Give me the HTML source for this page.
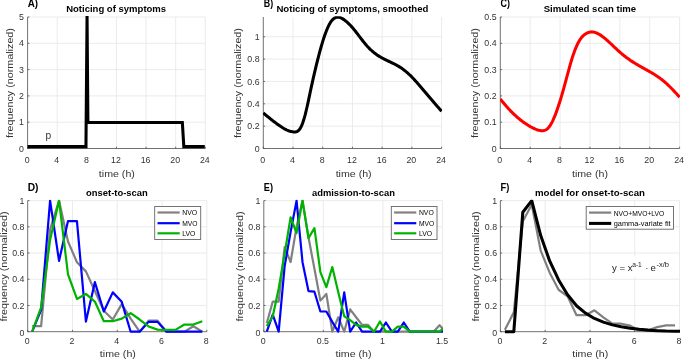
<!DOCTYPE html>
<html><head><meta charset="utf-8"><title>Figure</title><style>html,body{margin:0;padding:0;background:#fff;overflow:hidden}svg{display:block}</style></head><body>
<svg width="685" height="359" viewBox="0 0 685 359" font-family="'Liberation Sans', sans-serif">
<rect width="100%" height="100%" fill="#fff"/>
<defs>
<clipPath id="c00"><rect x="27.3" y="16.2" width="178.5" height="134.5"/></clipPath>
<clipPath id="c10"><rect x="263" y="16.2" width="179.1" height="134.5"/></clipPath>
<clipPath id="c20"><rect x="500" y="16.2" width="180.1" height="134.5"/></clipPath>
<clipPath id="c01"><rect x="27.4" y="199.8" width="179.9" height="134.1"/></clipPath>
<clipPath id="c11"><rect x="263.5" y="199.8" width="179.5" height="134.1"/></clipPath>
<clipPath id="c21"><rect x="500.1" y="199.8" width="179.9" height="134.1"/></clipPath>
</defs>
<path d="M57.22 17V148.5M86.83 17V148.5M116.45 17V148.5M146.07 17V148.5M175.68 17V148.5M205.3 17V148.5M27.6 122.2H205.3M27.6 95.9H205.3M27.6 69.6H205.3M27.6 43.3H205.3M27.6 17H205.3" stroke="#e9e9e9" stroke-width="0.9" fill="none"/>
<path d="M27.6 17V148.5H205.3M27.6 148.5v-1.8M57.22 148.5v-1.8M86.83 148.5v-1.8M116.45 148.5v-1.8M146.07 148.5v-1.8M175.68 148.5v-1.8M205.3 148.5v-1.8M27.6 148.5h1.8M27.6 122.2h1.8M27.6 95.9h1.8M27.6 69.6h1.8M27.6 43.3h1.8M27.6 17h1.8" stroke="#4d4d4d" stroke-width="0.8" fill="none"/>
<path d="M293.02 17V148.5M322.73 17V148.5M352.45 17V148.5M382.17 17V148.5M411.88 17V148.5M441.6 17V148.5M263.3 126.15H441.6M263.3 103.8H441.6M263.3 81.45H441.6M263.3 59.1H441.6M263.3 36.75H441.6" stroke="#e9e9e9" stroke-width="0.9" fill="none"/>
<path d="M263.3 17V148.5H441.6M263.3 148.5v-1.8M293.02 148.5v-1.8M322.73 148.5v-1.8M352.45 148.5v-1.8M382.17 148.5v-1.8M411.88 148.5v-1.8M441.6 148.5v-1.8M263.3 148.5h1.8M263.3 126.15h1.8M263.3 103.8h1.8M263.3 81.45h1.8M263.3 59.1h1.8M263.3 36.75h1.8" stroke="#4d4d4d" stroke-width="0.8" fill="none"/>
<path d="M530.18 17V148.5M560.07 17V148.5M589.95 17V148.5M619.83 17V148.5M649.72 17V148.5M679.6 17V148.5M500.3 122.2H679.6M500.3 95.9H679.6M500.3 69.6H679.6M500.3 43.3H679.6M500.3 17H679.6" stroke="#e9e9e9" stroke-width="0.9" fill="none"/>
<path d="M500.3 17V148.5H679.6M500.3 148.5v-1.8M530.18 148.5v-1.8M560.07 148.5v-1.8M589.95 148.5v-1.8M619.83 148.5v-1.8M649.72 148.5v-1.8M679.6 148.5v-1.8M500.3 148.5h1.8M500.3 122.2h1.8M500.3 95.9h1.8M500.3 69.6h1.8M500.3 43.3h1.8M500.3 17h1.8" stroke="#4d4d4d" stroke-width="0.8" fill="none"/>
<path d="M72.48 200.6V331.7M117.25 200.6V331.7M162.03 200.6V331.7M206.8 200.6V331.7M27.7 305.48H206.8M27.7 279.26H206.8M27.7 253.04H206.8M27.7 226.82H206.8M27.7 200.6H206.8" stroke="#e9e9e9" stroke-width="0.9" fill="none"/>
<path d="M27.7 200.6V331.7H206.8M27.7 331.7v-1.8M72.48 331.7v-1.8M117.25 331.7v-1.8M162.03 331.7v-1.8M206.8 331.7v-1.8M27.7 331.7h1.8M27.7 305.48h1.8M27.7 279.26h1.8M27.7 253.04h1.8M27.7 226.82h1.8M27.7 200.6h1.8" stroke="#4d4d4d" stroke-width="0.8" fill="none"/>
<path d="M323.37 200.6V331.7M382.93 200.6V331.7M442.5 200.6V331.7M263.8 305.48H442.5M263.8 279.26H442.5M263.8 253.04H442.5M263.8 226.82H442.5M263.8 200.6H442.5" stroke="#e9e9e9" stroke-width="0.9" fill="none"/>
<path d="M263.8 200.6V331.7H442.5M263.8 331.7v-1.8M323.37 331.7v-1.8M382.93 331.7v-1.8M442.5 331.7v-1.8M263.8 331.7h1.8M263.8 305.48h1.8M263.8 279.26h1.8M263.8 253.04h1.8M263.8 226.82h1.8M263.8 200.6h1.8" stroke="#4d4d4d" stroke-width="0.8" fill="none"/>
<path d="M545.17 200.6V331.7M589.95 200.6V331.7M634.73 200.6V331.7M679.5 200.6V331.7M500.4 305.48H679.5M500.4 279.26H679.5M500.4 253.04H679.5M500.4 226.82H679.5M500.4 200.6H679.5" stroke="#e9e9e9" stroke-width="0.9" fill="none"/>
<path d="M500.4 200.6V331.7H679.5M500.4 331.7v-1.8M545.17 331.7v-1.8M589.95 331.7v-1.8M634.73 331.7v-1.8M679.5 331.7v-1.8M500.4 331.7h1.8M500.4 305.48h1.8M500.4 279.26h1.8M500.4 253.04h1.8M500.4 226.82h1.8M500.4 200.6h1.8" stroke="#4d4d4d" stroke-width="0.8" fill="none"/>
<path d="M27.6 146.6 L85.95 146.6 L87.05 16.1 L87.9 122.55 L182.35 122.55 L183.83 146.6 L204.8 146.6" stroke="#000" stroke-width="3.05" fill="none" stroke-linejoin="miter"/>
<path d="M263.3 113 L264.05 113.62 L264.79 114.24 L265.54 114.86 L266.28 115.47 L267.03 116.09 L267.78 116.7 L268.52 117.3 L269.27 117.91 L270.01 118.51 L270.76 119.11 L271.51 119.7 L272.25 120.29 L273 120.87 L273.74 121.45 L274.49 122.02 L275.24 122.58 L275.98 123.14 L276.73 123.69 L277.47 124.23 L278.22 124.76 L278.97 125.29 L279.71 125.8 L280.46 126.31 L281.2 126.8 L281.95 127.29 L282.7 127.75 L283.44 128.21 L284.19 128.64 L284.93 129.05 L285.68 129.44 L286.43 129.81 L287.17 130.15 L287.92 130.47 L288.66 130.75 L289.41 131.01 L290.16 131.24 L290.9 131.43 L291.65 131.6 L292.39 131.74 L293.14 131.86 L293.89 131.94 L294.63 131.98 L295.38 131.95 L296.13 131.83 L296.87 131.59 L297.62 131.2 L298.36 130.64 L299.11 129.87 L299.86 128.89 L300.6 127.67 L301.35 126.22 L302.09 124.52 L302.84 122.56 L303.59 120.35 L304.33 117.86 L305.08 115.13 L305.82 112.17 L306.57 109.02 L307.32 105.73 L308.06 102.33 L308.81 98.84 L309.55 95.32 L310.3 91.79 L311.05 88.29 L311.79 84.85 L312.54 81.47 L313.28 78.15 L314.03 74.89 L314.78 71.69 L315.52 68.55 L316.27 65.47 L317.01 62.44 L317.76 59.47 L318.51 56.56 L319.25 53.72 L320 50.95 L320.74 48.25 L321.49 45.63 L322.24 43.1 L322.98 40.67 L323.73 38.33 L324.47 36.09 L325.22 33.96 L325.97 31.94 L326.71 30.04 L327.46 28.27 L328.2 26.62 L328.95 25.1 L329.7 23.72 L330.44 22.48 L331.19 21.39 L331.93 20.43 L332.68 19.61 L333.43 18.91 L334.17 18.34 L334.92 17.88 L335.66 17.54 L336.41 17.31 L337.16 17.18 L337.9 17.15 L338.65 17.21 L339.39 17.36 L340.14 17.58 L340.89 17.88 L341.63 18.23 L342.38 18.65 L343.12 19.11 L343.87 19.61 L344.62 20.15 L345.36 20.72 L346.11 21.32 L346.85 21.95 L347.6 22.62 L348.35 23.31 L349.09 24.04 L349.84 24.79 L350.58 25.57 L351.33 26.38 L352.08 27.21 L352.82 28.08 L353.57 28.96 L354.32 29.87 L355.06 30.8 L355.81 31.74 L356.55 32.69 L357.3 33.66 L358.05 34.63 L358.79 35.61 L359.54 36.6 L360.28 37.58 L361.03 38.56 L361.78 39.53 L362.52 40.49 L363.27 41.45 L364.01 42.38 L364.76 43.31 L365.51 44.21 L366.25 45.09 L367 45.94 L367.74 46.77 L368.49 47.56 L369.24 48.33 L369.98 49.07 L370.73 49.78 L371.47 50.47 L372.22 51.13 L372.97 51.77 L373.71 52.39 L374.46 52.98 L375.2 53.55 L375.95 54.1 L376.7 54.63 L377.44 55.14 L378.19 55.64 L378.93 56.12 L379.68 56.58 L380.43 57.03 L381.17 57.46 L381.92 57.88 L382.66 58.29 L383.41 58.69 L384.16 59.07 L384.9 59.45 L385.65 59.82 L386.39 60.18 L387.14 60.54 L387.89 60.9 L388.63 61.25 L389.38 61.6 L390.12 61.96 L390.87 62.31 L391.62 62.66 L392.36 63.02 L393.11 63.39 L393.85 63.76 L394.6 64.13 L395.35 64.52 L396.09 64.92 L396.84 65.32 L397.58 65.74 L398.33 66.17 L399.08 66.62 L399.82 67.09 L400.57 67.57 L401.31 68.07 L402.06 68.58 L402.81 69.12 L403.55 69.67 L404.3 70.24 L405.04 70.83 L405.79 71.44 L406.54 72.06 L407.28 72.7 L408.03 73.37 L408.77 74.04 L409.52 74.74 L410.27 75.46 L411.01 76.19 L411.76 76.94 L412.51 77.71 L413.25 78.49 L414 79.29 L414.74 80.09 L415.49 80.91 L416.24 81.75 L416.98 82.59 L417.73 83.43 L418.47 84.29 L419.22 85.15 L419.97 86.02 L420.71 86.9 L421.46 87.77 L422.2 88.65 L422.95 89.53 L423.7 90.41 L424.44 91.29 L425.19 92.17 L425.93 93.06 L426.68 93.94 L427.43 94.82 L428.17 95.7 L428.92 96.58 L429.66 97.46 L430.41 98.33 L431.16 99.21 L431.9 100.08 L432.65 100.96 L433.39 101.83 L434.14 102.7 L434.89 103.56 L435.63 104.42 L436.38 105.28 L437.12 106.14 L437.87 106.99 L438.62 107.84 L439.36 108.69 L440.11 109.53 L440.85 110.37 L441.6 111.2" stroke="#000" stroke-width="3.05" fill="none" stroke-linejoin="round" clip-path="url(#c10)"/>
<path d="M500.3 98.9 L501.05 99.87 L501.8 100.82 L502.55 101.75 L503.3 102.68 L504.05 103.58 L504.8 104.48 L505.55 105.35 L506.3 106.22 L507.05 107.07 L507.8 107.9 L508.55 108.72 L509.3 109.53 L510.05 110.32 L510.8 111.1 L511.55 111.87 L512.3 112.62 L513.05 113.35 L513.8 114.08 L514.55 114.79 L515.3 115.48 L516.05 116.16 L516.8 116.83 L517.55 117.48 L518.31 118.12 L519.06 118.75 L519.81 119.37 L520.56 119.97 L521.31 120.55 L522.06 121.13 L522.81 121.69 L523.56 122.23 L524.31 122.77 L525.06 123.29 L525.81 123.8 L526.56 124.29 L527.31 124.77 L528.06 125.24 L528.81 125.7 L529.56 126.14 L530.31 126.58 L531.06 126.99 L531.81 127.4 L532.56 127.79 L533.31 128.16 L534.06 128.51 L534.81 128.84 L535.56 129.16 L536.31 129.45 L537.06 129.72 L537.81 129.97 L538.56 130.18 L539.31 130.37 L540.06 130.52 L540.81 130.62 L541.56 130.69 L542.31 130.7 L543.06 130.67 L543.81 130.57 L544.56 130.39 L545.31 130.12 L546.06 129.75 L546.81 129.26 L547.56 128.64 L548.31 127.89 L549.06 126.99 L549.81 125.96 L550.56 124.8 L551.31 123.52 L552.06 122.12 L552.81 120.59 L553.56 118.96 L554.32 117.22 L555.07 115.37 L555.82 113.43 L556.57 111.4 L557.32 109.28 L558.07 107.09 L558.82 104.82 L559.57 102.49 L560.32 100.09 L561.07 97.64 L561.82 95.12 L562.57 92.54 L563.32 89.91 L564.07 87.21 L564.82 84.47 L565.57 81.69 L566.32 78.9 L567.07 76.1 L567.82 73.31 L568.57 70.54 L569.32 67.82 L570.07 65.15 L570.82 62.56 L571.57 60.05 L572.32 57.64 L573.07 55.34 L573.82 53.16 L574.57 51.1 L575.32 49.15 L576.07 47.32 L576.82 45.6 L577.57 44 L578.32 42.52 L579.07 41.16 L579.82 39.92 L580.57 38.79 L581.32 37.78 L582.07 36.89 L582.82 36.1 L583.57 35.4 L584.32 34.79 L585.07 34.25 L585.82 33.78 L586.57 33.36 L587.32 32.99 L588.07 32.67 L588.82 32.4 L589.57 32.18 L590.33 32.02 L591.08 31.93 L591.83 31.89 L592.58 31.93 L593.33 32.02 L594.08 32.17 L594.83 32.37 L595.58 32.62 L596.33 32.91 L597.08 33.24 L597.83 33.6 L598.58 34 L599.33 34.43 L600.08 34.88 L600.83 35.37 L601.58 35.88 L602.33 36.42 L603.08 36.98 L603.83 37.56 L604.58 38.17 L605.33 38.79 L606.08 39.42 L606.83 40.07 L607.58 40.74 L608.33 41.41 L609.08 42.1 L609.83 42.79 L610.58 43.5 L611.33 44.2 L612.08 44.91 L612.83 45.63 L613.58 46.34 L614.33 47.06 L615.08 47.77 L615.83 48.48 L616.58 49.19 L617.33 49.88 L618.08 50.57 L618.83 51.25 L619.58 51.92 L620.33 52.57 L621.08 53.22 L621.83 53.85 L622.58 54.48 L623.33 55.09 L624.08 55.69 L624.83 56.28 L625.58 56.86 L626.34 57.43 L627.09 57.99 L627.84 58.54 L628.59 59.08 L629.34 59.61 L630.09 60.13 L630.84 60.64 L631.59 61.14 L632.34 61.64 L633.09 62.12 L633.84 62.6 L634.59 63.07 L635.34 63.53 L636.09 63.98 L636.84 64.42 L637.59 64.86 L638.34 65.3 L639.09 65.73 L639.84 66.15 L640.59 66.58 L641.34 67 L642.09 67.41 L642.84 67.83 L643.59 68.24 L644.34 68.66 L645.09 69.07 L645.84 69.48 L646.59 69.9 L647.34 70.32 L648.09 70.74 L648.84 71.16 L649.59 71.59 L650.34 72.02 L651.09 72.46 L651.84 72.9 L652.59 73.35 L653.34 73.81 L654.09 74.27 L654.84 74.75 L655.59 75.23 L656.34 75.72 L657.09 76.22 L657.84 76.73 L658.59 77.25 L659.34 77.78 L660.09 78.33 L660.84 78.89 L661.59 79.46 L662.35 80.05 L663.1 80.65 L663.85 81.27 L664.6 81.9 L665.35 82.55 L666.1 83.22 L666.85 83.9 L667.6 84.59 L668.35 85.3 L669.1 86.02 L669.85 86.75 L670.6 87.5 L671.35 88.26 L672.1 89.02 L672.85 89.8 L673.6 90.59 L674.35 91.39 L675.1 92.2 L675.85 93.01 L676.6 93.84 L677.35 94.67 L678.1 95.51 L678.85 96.35 L679.6 97.2" stroke="#f00" stroke-width="3.05" fill="none" stroke-linejoin="round" clip-path="url(#c20)"/>
<path d="M32.18 326.19 L41.13 326.19 L50.09 229.44 L59.04 200.6 L68 241.5 L76.95 262.22 L85.91 271.39 L94.86 291.06 L103.82 310.72 L112.77 319.51 L121.73 304.17 L130.68 318.59 L139.64 331.7 L148.59 320.69 L157.55 320.69 L166.5 331.7 L175.46 331.7 L184.41 331.7 L193.37 326.19 L202.32 331.7" stroke="#808080" stroke-width="2.2" fill="none" stroke-linejoin="round" clip-path="url(#c01)"/>
<path d="M32.18 331.7 L41.13 309.81 L50.09 200.6 L59.04 260.91 L68 221.05 L76.95 221.05 L85.91 321.54 L94.86 282.14 L103.82 311.51 L112.77 292.37 L121.73 301.81 L130.68 331.7 L139.64 331.7 L148.59 321.87 L157.55 321.87 L166.5 331.7 L175.46 331.7 L184.41 331.7 L193.37 331.7 L202.32 331.7" stroke="#0000ff" stroke-width="2.2" fill="none" stroke-linejoin="round" clip-path="url(#c01)"/>
<path d="M32.18 331.7 L41.13 307.32 L50.09 239.93 L59.04 200.6 L68 274.34 L76.95 298.93 L85.91 293.94 L94.86 301.55 L103.82 321.21 L112.77 321.21 L121.73 318.59 L130.68 313.21 L139.64 319.51 L148.59 326.46 L157.55 329.6 L166.5 329.9 L175.46 329.9 L184.41 324.56 L193.37 324.56 L202.32 321.21" stroke="#00b300" stroke-width="2.2" fill="none" stroke-linejoin="round" clip-path="url(#c01)"/>
<path d="M266.78 323.18 L272.74 301.55 L278.69 301.55 L284.65 247.01 L290.61 262.09 L296.56 226.82 L302.52 200.6 L308.48 237.31 L314.43 268.77 L320.39 300.63 L326.35 293.94 L332.3 331.7 L338.26 317.28 L344.22 331.7 L350.17 309.41 L356.13 317.28 L362.09 324.88 L368.04 324.88 L374 331.7 L379.96 331.7 L385.91 331.7 L391.87 331.7 L397.82 331.7 L403.78 331.7 L409.74 331.7 L415.69 331.7 L421.65 331.7 L427.61 331.7 L433.57 331.7 L439.52 325.14 L445.48 331.7" stroke="#808080" stroke-width="2.2" fill="none" stroke-linejoin="round" clip-path="url(#c11)"/>
<path d="M266.78 331.7 L272.74 314.53 L278.69 331.7 L284.65 266.15 L290.61 232.06 L296.56 200.6 L302.52 262.22 L308.48 291.06 L314.43 291.71 L320.39 311.51 L326.35 311.51 L332.3 321.87 L338.26 331.7 L344.22 292.37 L350.17 331.7 L356.13 322.52 L362.09 331.7 L368.04 331.7 L374 331.7 L379.96 331.7 L385.91 322.52 L391.87 331.7 L397.82 331.7 L403.78 322.52 L409.74 331.7 L415.69 331.7 L421.65 331.7 L427.61 331.7 L433.57 331.7 L439.52 331.7 L445.48 331.7" stroke="#0000ff" stroke-width="2.2" fill="none" stroke-linejoin="round" clip-path="url(#c11)"/>
<path d="M266.78 326.19 L272.74 316.49 L278.69 288.44 L284.65 253.7 L290.61 217.25 L296.56 233.11 L302.52 200.6 L308.48 238.09 L314.43 228.13 L320.39 272.18 L326.35 287.13 L332.3 267.07 L338.26 292.37 L344.22 316.23 L350.17 320.16 L356.13 324.88 L362.09 326.59 L368.04 326.59 L374 331.7 L379.96 321.47 L385.91 331.7 L391.87 331.7 L397.82 326.59 L403.78 326.59 L409.74 331.7 L415.69 331.7 L421.65 331.7 L427.61 331.7 L433.57 331.7 L439.52 331.7 L445.48 326.59" stroke="#00b300" stroke-width="2.2" fill="none" stroke-linejoin="round" clip-path="url(#c11)"/>
<path d="M504.88 329.86 L513.83 312.3 L522.79 221.58 L531.74 204.53 L540.7 250.68 L549.65 272.7 L558.61 289.75 L567.56 296.3 L576.52 315.18 L585.47 315.18 L594.43 310.33 L603.38 317.28 L612.34 323.7 L621.29 323.7 L630.25 325.67 L639.2 330.78 L648.16 330.26 L657.11 327.11 L666.07 325.41 L675.02 325.41" stroke="#808080" stroke-width="2.2" fill="none" stroke-linejoin="round" clip-path="url(#c21)"/>
<path d="M504.88 331.7 L513.83 331.7 L522.79 212.27 L531.74 200.6 L540.7 235.6 L549.65 260.91 L558.61 279.92 L567.56 294.73 L576.52 305.74 L585.47 313.08 L594.43 318.46 L603.38 322.13 L612.34 324.88 L621.29 326.85 L630.25 328.29 L639.2 329.34 L648.16 330.13 L657.11 330.65 L666.07 331.04 L675.02 331.18 L683.98 331.31" stroke="#000" stroke-width="3.05" fill="none" stroke-linejoin="round" clip-path="url(#c21)"/>
<g font-size="8.8" fill="#333333">
<g text-anchor="middle">
<text x="27.1" y="162.9">0</text>
<text x="56.72" y="162.9">4</text>
<text x="86.33" y="162.9">8</text>
<text x="115.95" y="162.9">12</text>
<text x="145.57" y="162.9">16</text>
<text x="175.18" y="162.9">20</text>
<text x="204.8" y="162.9">24</text>
</g><g text-anchor="end">
<text x="23.9" y="152.4">0</text>
<text x="23.9" y="125.25">1</text>
<text x="23.9" y="98.95">2</text>
<text x="23.9" y="72.65">3</text>
<text x="23.9" y="46.35">4</text>
<text x="23.9" y="20.05">5</text>
</g></g>
<text x="116.85" y="177.4" font-size="9.6" fill="#333333" text-anchor="middle" textLength="36" lengthAdjust="spacingAndGlyphs">time (h)</text>
<text transform="translate(13.1 83.05) rotate(-90)" font-size="9.6" fill="#333333" text-anchor="middle" textLength="110" lengthAdjust="spacingAndGlyphs">frequency (normalized)</text>
<text x="116.15" y="11.8" font-size="9.2" font-weight="bold" fill="#000" text-anchor="middle" textLength="100" lengthAdjust="spacingAndGlyphs">Noticing of symptoms</text>
<text x="27.7" y="7.4" font-size="11" font-weight="bold" fill="#000" textLength="10.3" lengthAdjust="spacingAndGlyphs">A)</text>
<g font-size="8.8" fill="#333333">
<g text-anchor="middle">
<text x="262.8" y="162.9">0</text>
<text x="292.52" y="162.9">4</text>
<text x="322.23" y="162.9">8</text>
<text x="351.95" y="162.9">12</text>
<text x="381.67" y="162.9">16</text>
<text x="411.38" y="162.9">20</text>
<text x="441.1" y="162.9">24</text>
</g><g text-anchor="end">
<text x="259.6" y="152.4">0</text>
<text x="259.6" y="129.2">0.2</text>
<text x="259.6" y="106.85">0.4</text>
<text x="259.6" y="84.5">0.6</text>
<text x="259.6" y="62.15">0.8</text>
<text x="259.6" y="39.8">1</text>
</g></g>
<text x="353.65" y="177.4" font-size="9.6" fill="#333333" text-anchor="middle" textLength="36" lengthAdjust="spacingAndGlyphs">time (h)</text>
<text transform="translate(241 83.05) rotate(-90)" font-size="9.6" fill="#333333" text-anchor="middle" textLength="110" lengthAdjust="spacingAndGlyphs">frequency (normalized)</text>
<text x="352.45" y="11.8" font-size="9.2" font-weight="bold" fill="#000" text-anchor="middle" textLength="152" lengthAdjust="spacingAndGlyphs">Noticing of symptoms, smoothed</text>
<text x="263.8" y="7.4" font-size="11" font-weight="bold" fill="#000" textLength="9.4" lengthAdjust="spacingAndGlyphs">B)</text>
<g font-size="8.8" fill="#333333">
<g text-anchor="middle">
<text x="499.8" y="162.9">0</text>
<text x="529.68" y="162.9">4</text>
<text x="559.57" y="162.9">8</text>
<text x="589.45" y="162.9">12</text>
<text x="619.33" y="162.9">16</text>
<text x="649.22" y="162.9">20</text>
<text x="679.1" y="162.9">24</text>
</g><g text-anchor="end">
<text x="496.6" y="152.4">0</text>
<text x="496.6" y="125.25">0.1</text>
<text x="496.6" y="98.95">0.2</text>
<text x="496.6" y="72.65">0.3</text>
<text x="496.6" y="46.35">0.4</text>
<text x="496.6" y="20.05">0.5</text>
</g></g>
<text x="589.95" y="177.4" font-size="9.6" fill="#333333" text-anchor="middle" textLength="36" lengthAdjust="spacingAndGlyphs">time (h)</text>
<text transform="translate(477.9 83.05) rotate(-90)" font-size="9.6" fill="#333333" text-anchor="middle" textLength="110" lengthAdjust="spacingAndGlyphs">frequency (normalized)</text>
<text x="589.95" y="11.8" font-size="9.2" font-weight="bold" fill="#000" text-anchor="middle" textLength="92.5" lengthAdjust="spacingAndGlyphs">Simulated scan time</text>
<text x="500.5" y="7.4" font-size="11" font-weight="bold" fill="#000" textLength="9.5" lengthAdjust="spacingAndGlyphs">C)</text>
<g font-size="8.8" fill="#333333">
<g text-anchor="middle">
<text x="27.2" y="343.8">0</text>
<text x="71.98" y="343.8">2</text>
<text x="116.75" y="343.8">4</text>
<text x="161.53" y="343.8">6</text>
<text x="206.3" y="343.8">8</text>
</g><g text-anchor="end">
<text x="24.4" y="335.6">0</text>
<text x="24.4" y="308.53">0.2</text>
<text x="24.4" y="282.31">0.4</text>
<text x="24.4" y="256.09">0.6</text>
<text x="24.4" y="229.87">0.8</text>
<text x="24.4" y="203.65">1</text>
</g></g>
<text x="117.85" y="356.8" font-size="9.6" fill="#333333" text-anchor="middle" textLength="36" lengthAdjust="spacingAndGlyphs">time (h)</text>
<text transform="translate(7 266.45) rotate(-90)" font-size="9.6" fill="#333333" text-anchor="middle" textLength="110" lengthAdjust="spacingAndGlyphs">frequency (normalized)</text>
<text x="116.95" y="195.8" font-size="9.2" font-weight="bold" fill="#000" text-anchor="middle" textLength="61.7" lengthAdjust="spacingAndGlyphs">onset-to-scan</text>
<text x="27.7" y="191.4" font-size="11" font-weight="bold" fill="#000" textLength="10.8" lengthAdjust="spacingAndGlyphs">D)</text>
<g font-size="8.8" fill="#333333">
<g text-anchor="middle">
<text x="263.3" y="343.8">0</text>
<text x="322.87" y="343.8">0.5</text>
<text x="382.43" y="343.8">1</text>
<text x="442" y="343.8">1.5</text>
</g><g text-anchor="end">
<text x="260.5" y="335.6">0</text>
<text x="260.5" y="308.53">0.2</text>
<text x="260.5" y="282.31">0.4</text>
<text x="260.5" y="256.09">0.6</text>
<text x="260.5" y="229.87">0.8</text>
<text x="260.5" y="203.65">1</text>
</g></g>
<text x="353.55" y="356.8" font-size="9.6" fill="#333333" text-anchor="middle" textLength="36" lengthAdjust="spacingAndGlyphs">time (h)</text>
<text transform="translate(242.9 266.45) rotate(-90)" font-size="9.6" fill="#333333" text-anchor="middle" textLength="110" lengthAdjust="spacingAndGlyphs">frequency (normalized)</text>
<text x="353.45" y="195.8" font-size="9.2" font-weight="bold" fill="#000" text-anchor="middle" textLength="83" lengthAdjust="spacingAndGlyphs">admission-to-scan</text>
<text x="263.8" y="191.4" font-size="11" font-weight="bold" fill="#000" textLength="9.2" lengthAdjust="spacingAndGlyphs">E)</text>
<g font-size="8.8" fill="#333333">
<g text-anchor="middle">
<text x="499.9" y="343.8">0</text>
<text x="544.67" y="343.8">2</text>
<text x="589.45" y="343.8">4</text>
<text x="634.23" y="343.8">6</text>
<text x="679" y="343.8">8</text>
</g><g text-anchor="end">
<text x="497.1" y="335.6">0</text>
<text x="497.1" y="308.53">0.2</text>
<text x="497.1" y="282.31">0.4</text>
<text x="497.1" y="256.09">0.6</text>
<text x="497.1" y="229.87">0.8</text>
<text x="497.1" y="203.65">1</text>
</g></g>
<text x="590.25" y="356.8" font-size="9.6" fill="#333333" text-anchor="middle" textLength="36" lengthAdjust="spacingAndGlyphs">time (h)</text>
<text transform="translate(478.7 266.45) rotate(-90)" font-size="9.6" fill="#333333" text-anchor="middle" textLength="110" lengthAdjust="spacingAndGlyphs">frequency (normalized)</text>
<text x="589.95" y="195.8" font-size="9.2" font-weight="bold" fill="#000" text-anchor="middle" textLength="110" lengthAdjust="spacingAndGlyphs">model for onset-to-scan</text>
<text x="500.5" y="191.4" font-size="11" font-weight="bold" fill="#000" textLength="8.8" lengthAdjust="spacingAndGlyphs">F)</text>
<text x="45.5" y="139.4" font-size="10.2"fill="#333333">p</text>
<rect x="154.7" y="206.5" width="46" height="33" fill="#fff" stroke="#666" stroke-width="0.9"/>
<path d="M157.5 212.5H179.7" stroke="#808080" stroke-width="2.2"/>
<text x="182.2" y="215.2" font-size="6.7" fill="#000" textLength="14.9" lengthAdjust="spacingAndGlyphs">NVO</text>
<path d="M157.5 223.2H179.7" stroke="#0000ff" stroke-width="2.2"/>
<text x="182.2" y="225.6" font-size="6.7" fill="#000" textLength="15.3" lengthAdjust="spacingAndGlyphs">MVO</text>
<path d="M157.5 233.3H179.7" stroke="#00b300" stroke-width="2.2"/>
<text x="182.2" y="235.8" font-size="6.7" fill="#000" textLength="13.2" lengthAdjust="spacingAndGlyphs">LVO</text>
<rect x="391.3" y="206.5" width="45.7" height="33" fill="#fff" stroke="#666" stroke-width="0.9"/>
<path d="M394.1 212.5H416.3" stroke="#808080" stroke-width="2.2"/>
<text x="418.9" y="215.2" font-size="6.7" fill="#000" textLength="14.9" lengthAdjust="spacingAndGlyphs">NVO</text>
<path d="M394.1 223.2H416.3" stroke="#0000ff" stroke-width="2.2"/>
<text x="418.9" y="225.6" font-size="6.7" fill="#000" textLength="15.3" lengthAdjust="spacingAndGlyphs">MVO</text>
<path d="M394.1 233.3H416.3" stroke="#00b300" stroke-width="2.2"/>
<text x="418.9" y="235.8" font-size="6.7" fill="#000" textLength="13.2" lengthAdjust="spacingAndGlyphs">LVO</text>
<rect x="586.2" y="206.5" width="87.3" height="22.7" fill="#fff" stroke="#666" stroke-width="0.9"/>
<path d="M589 212.6H611.2" stroke="#808080" stroke-width="2.2"/>
<text x="613.7" y="215.7" font-size="6.7" fill="#000" textLength="50.6" lengthAdjust="spacingAndGlyphs">NVO+MVO+LVO</text>
<path d="M589 223.4H611.2" stroke="#000" stroke-width="3.05"/>
<text x="613.7" y="225.8" font-size="6.7" fill="#000" textLength="57" lengthAdjust="spacingAndGlyphs">gamma-variate fit</text>
<rect x="609.5" y="256.3" width="63" height="20.2" fill="#fff"/>
<g fill="#222" font-size="9.6"><text x="612" y="270.8">y = x</text><text x="632.2" y="266.6" font-size="7" textLength="9.6" lengthAdjust="spacingAndGlyphs">a-1</text><text x="645.2" y="270.8">·</text><text x="650.5" y="270.8">e</text><text x="656.4" y="266.6" font-size="7" textLength="12.6" lengthAdjust="spacingAndGlyphs">-x/b</text></g>
</svg></body></html>
